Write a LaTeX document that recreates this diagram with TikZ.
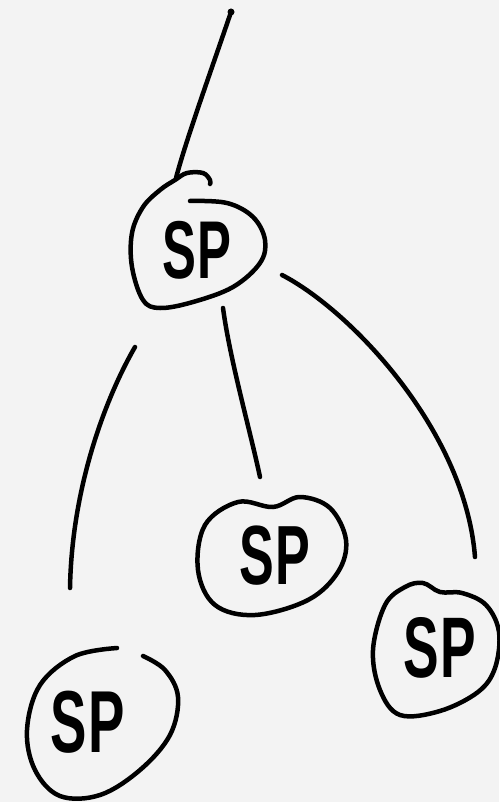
\documentclass[tikz,border=0pt]{standalone}
\usepackage{graphicx}
\usepackage{fontspec}
\setmainfont{Liberation Sans}
\newcommand\SPlabel[1]{\scalebox{0.62}[1]{\fontsize{#1}{#1}\selectfont\bfseries S\kern2pt P}}
\definecolor{paper}{RGB}{243,243,243}
\begin{document}
\begin{tikzpicture}[x=1pt,y=-1pt,
  ink/.style={line width=4.5pt, line cap=round, line join=round, black},
  sptxt/.style={inner sep=0pt, text=black}]
\useasboundingbox (0,0) rectangle (499,802);
\fill[paper] (0,0) rectangle (499,802);
% coordinates for connector ends
\coordinate (root) at (231,12);
\coordinate (topIn) at (176,178);
\coordinate (aL) at (135,347);
\coordinate (bL) at (70,588);
\coordinate (aM) at (223,308);
\coordinate (bM) at (260,477);
\coordinate (aR) at (282,275);
\coordinate (bR) at (475,557);
% text nodes
\node[sptxt] (t1) at (197,250) {\SPlabel{82}};
\node[sptxt] (t2) at (275,556) {\SPlabel{84}};
\node[sptxt] (t3) at (88,722) {\SPlabel{88}};
\node[sptxt] (t4) at (440,648) {\SPlabel{86}};
% top outline with hook
\draw[ink] plot[smooth, tension=0.6] coordinates {(190,201) (227,203) (253,217) (265,240) (260,263) (233,287) (193,302) (160,308) (143,300) (132,267) (132,233) (143,207) (160,190) (175,180) (187,173) (203,173) (210,180) (210,184)};
% middle outline
\draw[ink] plot[smooth cycle, tension=0.6] coordinates {(273,507) (300,497) (330,508) (346,540) (338,572) (308,600) (255,615) (215,605) (198,570) (205,525) (238,502)};
% left outline (open at top)
\draw[ink] plot[smooth, tension=0.6] coordinates {(143,656) (165,670) (178,697) (170,735) (140,770) (100,795) (60,796) (35,770) (27,730) (40,685) (75,656) (117,648)};
% right outline
\draw[ink] plot[smooth cycle, tension=0.6] coordinates {(440,592) (462,593) (486,605) (499,632) (495,668) (478,692) (440,711) (400,715) (380,690) (373,650) (385,605) (405,587) (423,583)};
% connectors
\draw[ink] (root) .. controls (212,68) and (186,140) .. (topIn);
\fill (root) circle (3.5pt);
\draw[ink] (aL) .. controls (110,390) and (72,480) .. (bL);
\draw[ink] (aM) .. controls (230,360) and (250,430) .. (bM);
\draw[ink] (aR) .. controls (350,310) and (465,430) .. (bR);
\end{tikzpicture}
\end{document}
